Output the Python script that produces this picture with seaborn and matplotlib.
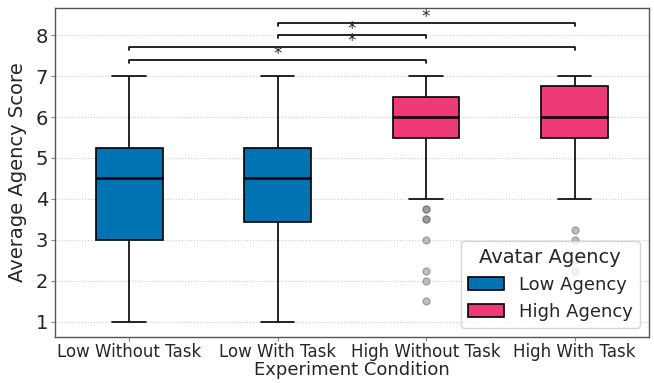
import matplotlib
matplotlib.use("Agg")
import matplotlib.pyplot as plt
import seaborn as sns
import pandas as pd

conditions = ["Low Without Task", "Low With Task", "High Without Task", "High With Task"]
agency = ["Low Agency", "Low Agency", "High Agency", "High Agency"]

low_without = [1.0, 2.0, 3.0, 4.0, 4.5, 5.0, 5.25, 6.0, 7.0]
low_with = [1.0, 2.5, 3.45, 4.0, 4.5, 5.0, 5.25, 6.0, 7.0]
high_without = [1.5, 2.0, 2.25, 3.0, 3.5, 3.5, 3.75, 3.75, 4.0, 5.0,
                5.5, 5.5, 5.5, 5.75, 5.75, 5.75, 6.0, 6.0, 6.0, 6.0,
                6.0, 6.0, 6.0, 6.25, 6.25, 6.25, 6.5, 6.5, 6.5, 6.5,
                6.5, 6.5, 6.75, 6.75, 6.75, 7.0, 7.0, 7.0, 7.0, 7.0, 7.0]
high_with = [2.25, 2.5, 3.0, 3.25, 4.0, 4.5, 5.0, 5.0, 5.25, 5.25,
             5.5, 5.5, 5.5, 5.75, 5.75, 5.75, 5.75, 6.0, 6.0, 6.0,
             6.0, 6.0, 6.0, 6.25, 6.25, 6.5, 6.5, 6.5, 6.75, 6.75,
             6.75, 6.75, 6.75, 7.0, 7.0, 7.0, 7.0, 7.0, 7.0, 7.0, 7.0]

sig_pairs = [(0, 2), (0, 3), (1, 2), (1, 3)]
sig_levels = [7.4, 7.7, 8.0, 8.3]
sig_labels = ["*", "*", "*", "*"]

palette = {"Low Agency": "#0173B2", "High Agency": "#EF3A79"}

rows = []
for cond, ag, vals in zip(conditions, agency, [low_without, low_with, high_without, high_with]):
    for v in vals:
        rows.append({"Experiment Condition": cond, "Avatar Agency": ag, "Average Agency Score": v})
df = pd.DataFrame(rows)

sns.set_style("white")
plt.rcParams['font.family'] = ['DejaVu Sans']

fig, ax = plt.subplots(figsize=(6.54, 3.83), dpi=100)
fig.subplots_adjust(left=0.084, right=0.992, top=0.979, bottom=0.12)

sns.boxplot(data=df, x="Experiment Condition", y="Average Agency Score",
            hue="Avatar Agency", order=conditions, hue_order=["Low Agency", "High Agency"],
            palette=palette, saturation=1, dodge=False, width=0.45, ax=ax, zorder=3,
            linewidth=1.2, linecolor="black",
            boxprops=dict(edgecolor="black"),
            whiskerprops=dict(color="black"),
            capprops=dict(color="black"),
            medianprops=dict(color="black", linewidth=1.8),
            flierprops=dict(marker="o", markerfacecolor="gray", markeredgecolor="dimgray",
                            alpha=0.5, markersize=5))

ax.set_xlim(-0.5, 3.5)
ax.set_ylim(0.63, 8.66)
ax.set_yticks(range(1, 9))
ax.yaxis.grid(True, linestyle=":", color="#cccccc", linewidth=0.8, zorder=0)
ax.set_axisbelow(True)
ax.tick_params(axis="y", labelsize=14, left=True, length=3, color="#888888", pad=2)
ax.tick_params(axis="x", labelsize=12, bottom=True, length=3, color="#888888", pad=1)
ax.set_xlabel("Experiment Condition", fontsize=13, labelpad=0)
ax.set_ylabel("Average Agency Score", fontsize=14, labelpad=6)
for s in ax.spines.values():
    s.set_color("#555555")
    s.set_linewidth(1.0)

h = 0.07
for (a, b), lvl, lab in zip(sig_pairs, sig_levels, sig_labels):
    ax.plot([a, a, b, b], [lvl - h, lvl, lvl, lvl - h], color="black", linewidth=1.2, zorder=4)
    ax.text((a + b) / 2, lvl - 0.07, lab, ha="center", va="bottom", fontsize=12, zorder=5)

leg = ax.legend(title="Avatar Agency", loc="lower right", fontsize=13, title_fontsize=14,
                framealpha=0.8)
for p in leg.get_patches():
    p.set_edgecolor("black")

fig.savefig("out.png", dpi=100)
